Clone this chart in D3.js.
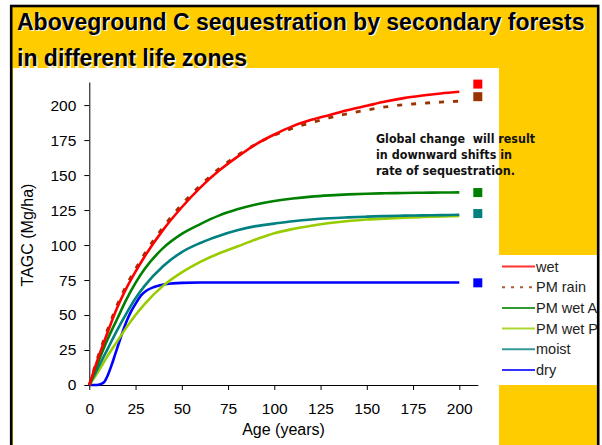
<!DOCTYPE html>
<html>
<head>
<meta charset="utf-8">
<script src="https://cdn.jsdelivr.net/npm/d3@7"></script>
<style>
  body { margin: 0; background: #fff; }
  svg { display: block; font-family: "Liberation Sans", Arial, sans-serif; }
</style>
</head>
<body>
<div id="chart"></div>
<script>
// values
const ages = [0, 5, 10, 15, 20, 25, 30, 40, 50, 60, 70, 80, 90, 100, 110, 120, 130, 140, 150, 160, 170, 180, 190, 200];
const wet    = [0, 20, 38, 55, 69, 81, 92, 111, 127, 141, 153, 163, 172, 179, 185, 189.5, 193, 196.5, 199.5, 202.5, 205, 206.8, 208.3, 209.5];
const pmRain = [0, 21.5, 40, 57, 71, 83, 94, 113, 129, 142.5, 154.5, 164, 172, 178.5, 183.5, 187.5, 191, 194, 196.5, 198.7, 200.2, 201.3, 202.1, 202.8];
const pmWetA = [0, 17, 33, 47, 61, 73, 83, 98, 108, 115, 121, 125.5, 129, 131.5, 133.3, 134.6, 135.5, 136.2, 136.7, 137, 137.2, 137.4, 137.5, 137.6];
const pmWetP = [0, 10, 21, 31, 41, 50, 58, 71, 80.5, 88, 94, 99, 104, 108.5, 111.5, 113.8, 115.7, 117.2, 118.3, 118.9, 119.5, 120, 120.4, 120.8];
const moist  = [0, 13, 26, 39, 51, 62, 71, 85, 95, 101.5, 106.5, 110.5, 113.5, 115.3, 117, 118.3, 119.2, 119.8, 120.3, 120.7, 121, 121.2, 121.4, 121.6];
const dryAges = [0, 4, 6, 8, 10, 12, 14, 16, 18, 20, 22, 25, 28, 31, 35, 40, 45, 50, 60, 80, 120, 160, 200];
const dry     = [0, 0, 0.5, 2, 7, 14, 22, 30, 38, 45, 51, 58, 64, 67.5, 70, 71.8, 72.6, 73, 73.2, 73.2, 73.2, 73.2, 73.2];

const seriesNames = ["wet", "PM rain", "PM wet A", "PM wet P", "moist", "dry"];
const markerAge = 210;
const markerValues = [215, 206, 137.5, 122.5, 73];
const xTicks = [0, 25, 50, 75, 100, 125, 150, 175, 200];
const yTicks = [0, 25, 50, 75, 100, 125, 150, 175, 200];

const series = [
  { name: seriesNames[0], x: ages, y: wet },
  { name: seriesNames[1], x: ages, y: pmRain },
  { name: seriesNames[2], x: ages, y: pmWetA },
  { name: seriesNames[3], x: ages, y: pmWetP },
  { name: seriesNames[4], x: ages, y: moist },
  { name: seriesNames[5], x: dryAges, y: dry }
];

const colors = {
  "wet": "#ff0000", "PM rain": "#993300", "PM wet A": "#008000",
  "PM wet P": "#99cc00", "moist": "#008080", "dry": "#0000ff"
};
const markerColors = ["#ff0000", "#993300", "#008000", "#008080", "#0000ff"];

const W = 602, H = 445;
const svg = d3.select("#chart").append("svg")
  .attr("width", W).attr("height", H);

// frame
svg.append("rect").attr("x", 11.2).attr("y", 6).attr("width", 587).attr("height", 450)
  .attr("fill", "#ffcc00");

// title with light drop shadow
const titleLines = ["Aboveground C sequestration by secondary forests", "in different life zones"];
const titleY = [29.5, 66];
[["#f4f4f4", 1.5], ["#000", 0]].forEach(([c, off]) => {
  svg.selectAll(null).data(titleLines).enter().append("text")
    .attr("x", 17 + off).attr("y", (d, i) => titleY[i] + off)
    .attr("font-size", 23).attr("font-weight", "bold")
    .attr("fill", c)
    .text(d => d);
});

svg.append("rect").attr("x", 13).attr("y", 68).attr("width", 486).attr("height", 380).attr("fill", "#fff");
svg.append("rect").attr("x", 499).attr("y", 255).attr("width", 98).attr("height", 130).attr("fill", "#fff");

const x = d3.scaleLinear().domain([0, 210]).range([89.3, 477.8]);
const y = d3.scaleLinear().domain([0, 216.5]).range([385, 82]);

const xAxis = svg.append("g")
  .attr("transform", `translate(0,${y(0)})`)
  .call(d3.axisBottom(x).tickValues(xTicks).tickSize(5).tickSizeOuter(0).tickPadding(13));
const yAxis = svg.append("g")
  .attr("transform", `translate(${x(0)},0)`)
  .call(d3.axisLeft(y).tickValues(yTicks).tickSize(5).tickSizeOuter(0).tickPadding(8));
[xAxis, yAxis].forEach(g => {
  g.selectAll("text").attr("font-size", 15.5).attr("font-family", "Liberation Sans, Arial, sans-serif").attr("fill", "#000");
  g.selectAll("line, path").attr("stroke", "#000");
});

svg.append("text").attr("x", 283.5).attr("y", 435)
  .attr("text-anchor", "middle").attr("font-size", 16).text("Age (years)");
svg.append("text").attr("transform", "translate(33,235) rotate(-90)")
  .attr("text-anchor", "middle").attr("font-size", 16).text("TAGC (Mg/ha)");

const line = d3.line().curve(d3.curveMonotoneX)
  .x(d => x(d[0])).y(d => y(d[1]));

// back to front: red solid sits over the brown dashes
const drawOrder = [5, 3, 4, 2, 1, 0];
drawOrder.forEach(i => {
  const s = series[i];
  svg.append("path")
    .datum(s.x.map((a, k) => [a, s.y[k]]))
    .attr("fill", "none")
    .attr("stroke", colors[s.name])
    .attr("stroke-width", s.name === "PM rain" ? 2.8 : 2.6)
    .attr("stroke-dasharray", s.name === "PM rain" ? "5,9" : null)
    .attr("stroke-linejoin", "round")
    .attr("d", line);
});

// end markers
svg.selectAll(".marker").data(markerValues).enter().append("rect")
  .attr("class", "marker")
  .attr("x", x(markerAge) - 4.5).attr("y", d => y(d) - 4.5)
  .attr("width", 9).attr("height", 9)
  .attr("fill", (d, i) => markerColors[i]);

// annotation
const note = ["Global change  will result", "in downward shifts in", "rate of sequestration."];
const noteLen = [159, 136, 139];
svg.selectAll(".note").data(note).enter().append("text")
  .attr("class", "note")
  .attr("x", 376).attr("y", (d, i) => 143 + i * 16)
  .attr("font-family", "'Comic Sans MS', 'DejaVu Sans', sans-serif")
  .attr("font-weight", "bold").attr("font-size", 11.5)
  .attr("textLength", (d, i) => noteLen[i]).attr("lengthAdjust", "spacingAndGlyphs")
  .style("white-space", "pre")
  .attr("fill", "#111")
  .text(d => d);

// legend
svg.append("clipPath").attr("id", "legclip")
  .append("rect").attr("x", 499).attr("y", 255).attr("width", 98).attr("height", 130);
const leg = svg.append("g").attr("clip-path", "url(#legclip)");
const legItems = leg.selectAll("g").data(seriesNames).enter().append("g")
  .attr("transform", (d, i) => `translate(0,${266.5 + i * 20.7})`);
legItems.append("line")
  .attr("x1", 502).attr("x2", 535)
  .attr("stroke", d => colors[d]).attr("stroke-width", 2)
  .attr("stroke-opacity", 0.8)
  .attr("stroke-dasharray", d => d === "PM rain" ? "3,6" : null);
legItems.append("text")
  .attr("x", 536).attr("dy", "0.35em")
  .attr("font-size", 14.5).attr("fill", "#222")
  .text(d => d);

// black border on top
svg.append("rect").attr("x", 11.2).attr("y", 6).attr("width", 587).attr("height", 450)
  .attr("fill", "none").attr("stroke", "#000").attr("stroke-width", 2.6);
</script>
</body>
</html>
